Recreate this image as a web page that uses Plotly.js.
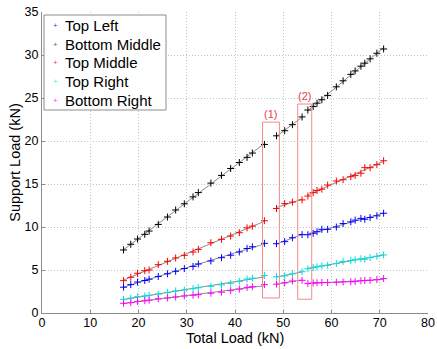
<!DOCTYPE html>
<html>
<head>
<meta charset="utf-8">
<script src="https://cdn.plot.ly/plotly-3.0.1.min.js"></script>
<style>html,body{margin:0;padding:0;background:#fff;}#chart{width:437px;height:349px;}</style>
</head>
<body>
<div id="chart"></div>
<script>
// Total load (kN) for each measurement
const totalLoad = [16.9, 18.4, 19.8, 21.3, 22.2, 24.1, 26.0, 27.7, 29.5, 31.3, 32.4, 35.0, 37.2, 39.1, 40.9, 42.5, 43.6, 46.1,
                   48.6, 50.3, 51.9, 53.9,
                   55.1, 56.2, 57.0, 58.0, 59.2, 61.0, 62.4, 64.0, 64.9, 66.1, 66.9, 68.0, 69.4, 70.8];
// Segment boundaries (index ranges) separated by the marked regions (1) and (2)
const segments = [[0, 17], [18, 21], [22, 35]];

const seriesTopLeft = [7.33, 7.99, 8.6, 9.15, 9.53, 10.3, 11.16, 11.98, 12.7, 13.5, 14.0, 15.1, 16.0, 16.8, 17.5, 18.1, 18.6, 19.6,
                       20.6, 21.2, 21.9, 22.8,
                       23.6, 24.0, 24.4, 24.8, 25.3, 26.3, 27.0, 27.75, 28.15, 28.7, 29.05, 29.55, 30.2, 30.7];
const seriesTopMiddle = [3.76, 4.15, 4.62, 4.92, 5.0, 5.62, 6.01, 6.4, 6.7, 7.09, 7.4, 8.17, 8.57, 8.95, 9.34, 9.9, 10.1, 10.73,
                         12.15, 12.72, 12.9, 13.15,
                         13.6, 14.0, 14.25, 14.4, 14.88, 15.35, 15.5, 15.85, 16.0, 16.25, 16.9, 16.9, 17.25, 17.7];
const seriesBottomMiddle = [3.0, 3.3, 3.6, 3.78, 3.93, 4.25, 4.56, 4.85, 5.17, 5.42, 5.7, 6.05, 6.43, 6.72, 7.1, 7.5, 7.7, 8.1,
                            8.06, 8.3, 8.75, 9.12,
                            9.1, 9.27, 9.45, 9.73, 9.73, 10.0, 10.4, 10.6, 10.8, 11.0, 10.9, 11.1, 11.3, 11.6];
const seriesTopRight = [1.59, 1.74, 1.9, 1.98, 2.05, 2.2, 2.4, 2.56, 2.67, 2.83, 2.94, 3.1, 3.26, 3.45, 3.68, 3.95, 4.05, 4.35,
                        4.22, 4.32, 4.55, 4.8,
                        5.15, 5.28, 5.38, 5.47, 5.55, 5.75, 6.0, 6.1, 6.2, 6.3, 6.25, 6.45, 6.6, 6.75];
const seriesBottomRight = [1.13, 1.2, 1.35, 1.43, 1.5, 1.66, 1.75, 1.86, 1.98, 2.06, 2.13, 2.3, 2.42, 2.6, 2.78, 2.98, 3.06, 3.3,
                           3.35, 3.5, 3.72, 3.8,
                           3.42, 3.5, 3.52, 3.55, 3.55, 3.57, 3.6, 3.63, 3.65, 3.75, 3.78, 3.8, 3.88, 4.0];

// Plotted marker colours (as in the figure)
const plotted = [
  {y: seriesTopLeft, color: '#000000'},
  {y: seriesTopMiddle, color: '#ff0000'},
  {y: seriesBottomMiddle, color: '#0000ff'},
  {y: seriesTopRight, color: '#00e0e0'},
  {y: seriesBottomRight, color: '#ff00ff'}
];
// Legend entries (names and colours as shown in the legend box)
const legendNames = ['Top Left', 'Bottom Middle', 'Top Middle', 'Top Right', 'Bottom Right'];
const legendColors = ['#4444ff', '#666666', '#ff4444', '#33eeee', '#ff44ff'];

// Axis titles
const xTitle = 'Total Load (kN)';
const yTitle = 'Support Load (kN)';

// Marked transition regions
const regionLabels = ['(1)', '(2)'];
const regionX0 = [45.7, 53.0];
const regionX1 = [49.2, 55.9];
const regionY0 = [1.75, 1.6];
const regionY1 = [22.2, 24.3];

function fitLine(xs, ys) {
  const n = xs.length;
  let sx = 0, sy = 0, sxx = 0, sxy = 0;
  for (let i = 0; i < n; i++) { sx += xs[i]; sy += ys[i]; sxx += xs[i]*xs[i]; sxy += xs[i]*ys[i]; }
  const b = (n*sxy - sx*sy) / (n*sxx - sx*sx);
  const a = (sy - b*sx) / n;
  return [a, b];
}

const traces = [];
plotted.forEach(s => {
  const lx = [], ly = [];
  segments.forEach(([i0, i1]) => {
    const xs = totalLoad.slice(i0, i1 + 1), ys = s.y.slice(i0, i1 + 1);
    const [a, b] = fitLine(xs, ys);
    lx.push(xs[0], xs[xs.length - 1], null);
    ly.push(a + b*xs[0], a + b*xs[xs.length - 1], null);
  });
  traces.push({x: lx, y: ly, mode: 'lines', line: {color: '#8a8a8a', width: 1}, showlegend: false, hoverinfo: 'skip'});
  traces.push({x: totalLoad, y: s.y, mode: 'markers', showlegend: false,
    marker: {symbol: 'cross-thin', size: 5, line: {color: s.color, width: 1}, color: s.color}});
});

const FONT = 'Liberation Sans, Arial, Helvetica, sans-serif';
const shapes = [], annotations = [];
regionLabels.forEach((lab, i) => {
  shapes.push({type: 'rect', xref: 'x', yref: 'y', x0: regionX0[i], x1: regionX1[i], y0: regionY0[i], y1: regionY1[i],
    line: {color: '#f08a8a', width: 1}, fillcolor: 'rgba(0,0,0,0)'});
  annotations.push({xref: 'x', yref: 'y', x: (regionX0[i] + regionX1[i]) / 2, y: regionY1[i], yanchor: 'bottom',
    text: lab, showarrow: false, font: {family: FONT, size: 11, color: '#e8404c'}, yshift: 0});
});

// Legend box drawn in paper coordinates (plot area: 386 x 301 px)
const plotW = 386, plotH = 301;
const legBox = {left: 2, right: 124, top: 3, bottom: 98};   // px from the plot's top-left corner
shapes.push({type: 'rect', xref: 'paper', yref: 'paper',
  x0: legBox.left / plotW, x1: legBox.right / plotW, y0: 1 - legBox.bottom / plotH, y1: 1 - legBox.top / plotH,
  line: {color: '#8c8c8c', width: 1}, fillcolor: '#ffffff', layer: 'above'});
legendNames.forEach((name, i) => {
  const cy = 13.6 + i * 18.6;
  annotations.push({xref: 'paper', yref: 'paper', x: 13.7 / plotW, y: 1 - cy / plotH, xanchor: 'center', yanchor: 'middle',
    text: '+', showarrow: false, font: {family: FONT, size: 8, color: legendColors[i]}});
  annotations.push({xref: 'paper', yref: 'paper', x: 20.5 / plotW, y: 1 - cy / plotH, xanchor: 'left', yanchor: 'middle',
    text: name, showarrow: false, font: {family: FONT, size: 15, color: '#000'}});
});
// x-axis title placed as in the figure
annotations.push({xref: 'paper', yref: 'paper', x: 0.5, y: 0, yshift: -25, xanchor: 'center', yanchor: 'middle',
  text: xTitle, showarrow: false, font: {family: FONT, size: 14.5, color: '#000'}});

const axisCommon = {
  showgrid: true, gridcolor: '#c4c4c4', griddash: '1px,2px', gridwidth: 1,
  zeroline: false, showline: true, linecolor: '#8c8c8c', linewidth: 1,
  ticks: 'inside', ticklen: 3, tickcolor: '#8c8c8c',
  tickfont: {family: FONT, size: 12.5, color: '#000'},
  ticklabelstandoff: -2,
  mirror: false
};

const layout = {
  width: 437, height: 349,
  margin: {l: 42, r: 9, t: 12, b: 36},
  paper_bgcolor: '#fff', plot_bgcolor: '#fff',
  xaxis: Object.assign({}, axisCommon, {range: [0, 80], dtick: 10, tick0: 0}),
  yaxis: Object.assign({}, axisCommon, {range: [0, 35], dtick: 5, tick0: 0, ticklabelstandoff: 0,
    title: {text: yTitle, standoff: 0, font: {family: FONT, size: 14.5, color: '#000'}}}),
  shapes: shapes,
  annotations: annotations,
  showlegend: false
};

Plotly.newPlot('chart', traces, layout, {displayModeBar: false, staticPlot: true});
</script>
</body>
</html>
